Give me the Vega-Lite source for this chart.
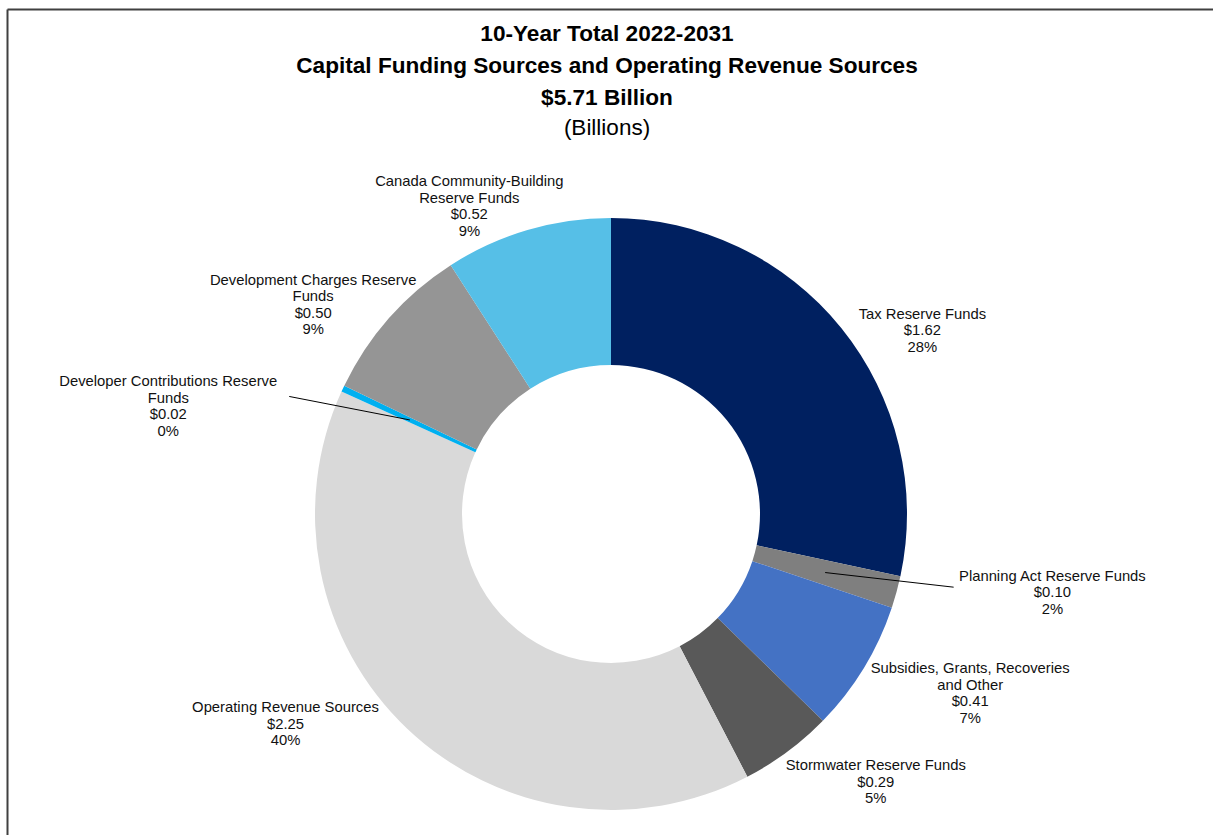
{
  "$schema": "https://vega.github.io/schema/vega-lite/v6.json",
  "width": 1206,
  "height": 826,
  "autosize": {"type": "none"},
  "padding": {"left": 7, "top": 9, "right": 0, "bottom": 0},
  "background": "white",
  "title": {
    "text": ["10-Year Total 2022-2031", "Capital Funding Sources and Operating Revenue Sources", "$5.71 Billion"],
    "subtitle": "(Billions)",
    "anchor": "middle",
    "frame": "group",
    "offset": -130,
    "dx": -3,
    "font": "Liberation Sans",
    "fontSize": 22.6,
    "fontWeight": "bold",
    "lineHeight": 32,
    "color": "#000000",
    "subtitleFont": "Liberation Sans",
    "subtitleFontSize": 22.5,
    "subtitleColor": "#000000",
    "subtitlePadding": 7
  },
  "data": {
    "values": [
      {"source": "Tax Reserve Funds", "label": "Tax Reserve Funds", "value": 1.62, "share": 28},
      {"source": "Planning Act Reserve Funds", "label": "Planning Act Reserve Funds", "value": 0.10, "share": 2},
      {"source": "Subsidies, Grants, Recoveries and Other", "label": "Subsidies, Grants, Recoveries\nand Other", "value": 0.41, "share": 7},
      {"source": "Stormwater Reserve Funds", "label": "Stormwater Reserve Funds", "value": 0.29, "share": 5},
      {"source": "Operating Revenue Sources", "label": "Operating Revenue Sources", "value": 2.25, "share": 40},
      {"source": "Developer Contributions Reserve Funds", "label": "Developer Contributions Reserve\nFunds", "value": 0.02, "share": 0},
      {"source": "Development Charges Reserve Funds", "label": "Development Charges Reserve\nFunds", "value": 0.50, "share": 9},
      {"source": "Canada Community-Building Reserve Funds", "label": "Canada Community-Building\nReserve Funds", "value": 0.52, "share": 9}
    ]
  },
  "transform": [
    {"window": [{"op": "sum", "field": "value", "as": "cum"}], "frame": [null, 0]},
    {"joinaggregate": [{"op": "sum", "field": "value", "as": "total"}]},
    {"calculate": "(datum.cum - datum.value) / datum.total", "as": "a0"},
    {"calculate": "datum.cum / datum.total", "as": "a1"},
    {"calculate": "PI * (datum.a0 + datum.a1)", "as": "ang"},
    {"calculate": "222 * sin(datum.ang)", "as": "px"},
    {"calculate": "222 * cos(datum.ang)", "as": "py"},
    {"calculate": "1.6 * datum.px", "as": "ox"},
    {"calculate": "1.25 * datum.py", "as": "oy"},
    {"calculate": "300 * sin(datum.ang)", "as": "lx"},
    {"calculate": "300 * cos(datum.ang)", "as": "ly"},
    {"calculate": "datum.label + '\\n$' + format(datum.value, '.2f') + '\\n' + datum.share + '%'", "as": "txt"}
  ],
  "layer": [
    {
      "mark": {"type": "arc", "outerRadius": 296, "innerRadius": 149},
      "encoding": {
        "theta": {"field": "a0", "type": "quantitative", "scale": {"domain": [0, 1]}},
        "theta2": {"field": "a1"},
        "color": {
          "field": "source",
          "type": "nominal",
          "legend": null,
          "scale": {
            "domain": [
              "Tax Reserve Funds",
              "Planning Act Reserve Funds",
              "Subsidies, Grants, Recoveries and Other",
              "Stormwater Reserve Funds",
              "Operating Revenue Sources",
              "Developer Contributions Reserve Funds",
              "Development Charges Reserve Funds",
              "Canada Community-Building Reserve Funds"
            ],
            "range": ["#002060", "#7F7F7F", "#4472C4", "#595959", "#D9D9D9", "#00B0F0", "#959595", "#56BFE7"]
          }
        },
        "x": {"datum": 0, "type": "quantitative", "scale": {"domain": [-604, 602], "nice": false, "zero": false},
              "axis": {"orient": "top", "title": null, "labels": false, "ticks": false, "grid": false, "domainColor": "#404040", "domainWidth": 2}},
        "y": {"datum": 0, "type": "quantitative", "scale": {"domain": [-321, 505], "nice": false, "zero": false},
              "axis": {"orient": "left", "title": null, "labels": false, "ticks": false, "grid": false, "domainColor": "#404040", "domainWidth": 2}}
      }
    },
    {
      "transform": [{"filter": "datum.value < 0.15"}],
      "mark": {"type": "rule", "color": "#000000", "strokeWidth": 1},
      "encoding": {
        "x": {"field": "px", "type": "quantitative"},
        "y": {"field": "py", "type": "quantitative"},
        "x2": {"field": "ox"},
        "y2": {"field": "oy"}
      }
    },
    {
      "encoding": {
        "x": {"field": "lx", "type": "quantitative"},
        "y": {"field": "ly", "type": "quantitative"},
        "text": {"field": "txt", "type": "nominal"}
      },
      "layer": [
        {"transform": [{"filter": "datum.source == 'Tax Reserve Funds'"}], "mark": {"type": "text", "dx": 78, "dy": -10.5}},
        {"transform": [{"filter": "datum.source == 'Planning Act Reserve Funds'"}], "mark": {"type": "text", "dx": 152, "dy": -16.5}},
        {"transform": [{"filter": "datum.source == 'Subsidies, Grants, Recoveries and Other'"}], "mark": {"type": "text", "dx": 103, "dy": -1}},
        {"transform": [{"filter": "datum.source == 'Stormwater Reserve Funds'"}], "mark": {"type": "text", "dx": 86, "dy": 11.5}},
        {"transform": [{"filter": "datum.source == 'Operating Revenue Sources'"}], "mark": {"type": "text", "dx": -119, "dy": -23.5}},
        {"transform": [{"filter": "datum.source == 'Developer Contributions Reserve Funds'"}], "mark": {"type": "text", "dx": -171, "dy": -4.75}},
        {"transform": [{"filter": "datum.source == 'Development Charges Reserve Funds'"}], "mark": {"type": "text", "dx": -73, "dy": -34.75}},
        {"transform": [{"filter": "datum.source == 'Canada Community-Building Reserve Funds'"}], "mark": {"type": "text", "dx": -57, "dy": -43.75}}
      ]
    }
  ],
  "config": {
    "view": {"stroke": null},
    "text": {
      "font": "Liberation Sans",
      "fontSize": 14.8,
      "lineHeight": 16.5,
      "lineBreak": "\n",
      "align": "center",
      "baseline": "middle",
      "color": "#111111"
    }
  }
}
